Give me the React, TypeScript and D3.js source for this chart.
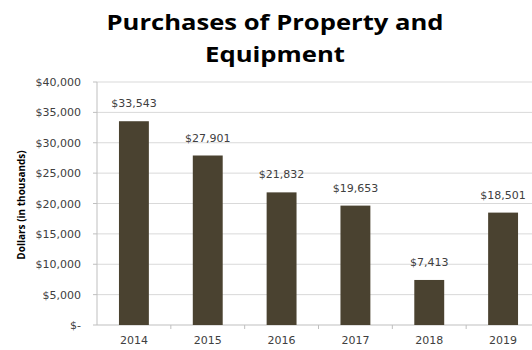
import React from "react";
import * as d3 from "d3";

const years = ["2014", "2015", "2016", "2017", "2018", "2019"];
const values = [33543, 27901, 21832, 19653, 7413, 18501];
const yTicks = [0, 5000, 10000, 15000, 20000, 25000, 30000, 35000, 40000];

export default function App() {
  const W = 532, H = 350;
  const left = 97, right = 540, top = 82, bottom = 325;
  const x = d3.scaleBand().domain(years).range([left, right]).paddingInner(0.595).paddingOuter(0.2975);
  const y = d3.scaleLinear().domain([0, 40000]).range([bottom, top]);
  const fmt = (v: number) => (v === 0 ? "$-" : "$" + d3.format(",")(v));
  const step = x.step();
  const font = "DejaVu Sans, sans-serif";
  return (
    <svg width={W} height={H} style={{ position: "absolute", left: 0, top: 0, background: "#fff" }}>
      <rect width={W} height={H} fill="#fff" />
      <text x={275} y={30} textAnchor="middle" fontFamily="Open Sans, sans-serif" fontWeight="bold" fontSize={21} fill="#000" textLength={337} lengthAdjust="spacingAndGlyphs">Purchases of Property and</text>
      <text x={275} y={62} textAnchor="middle" fontFamily="Open Sans, sans-serif" fontWeight="bold" fontSize={21} fill="#000" textLength={140} lengthAdjust="spacingAndGlyphs">Equipment</text>
      {yTicks.map((t) => (
        <g key={t}>
          {t > 0 && <line x1={left} x2={W} y1={y(t)} y2={y(t)} stroke="#d9d9d9" strokeWidth={1} />}
          <line x1={left - 4} x2={left} y1={y(t)} y2={y(t)} stroke="#bfbfbf" />
          <text x={81} y={y(t) + 4} textAnchor="end" fontFamily={font} fontSize={11} fill="#404040">{fmt(t)}</text>
        </g>
      ))}
      <line x1={left} x2={left} y1={top} y2={bottom} stroke="#bfbfbf" />
      <line x1={left} x2={W} y1={bottom} y2={bottom} stroke="#bfbfbf" />
      {years.map((yr, i) => (
        <line key={"t" + yr} x1={left + step * (i + 1)} x2={left + step * (i + 1)} y1={bottom} y2={bottom + 4} stroke="#bfbfbf" />
      ))}
      {years.map((yr, i) => (
        <g key={yr}>
          <rect x={x(yr)} y={y(values[i])} width={x.bandwidth()} height={bottom - y(values[i])} fill="#4a4230" />
          <text x={(x(yr) as number) + x.bandwidth() / 2} y={y(values[i]) - 14} textAnchor="middle" fontFamily={font} fontSize={11} fill="#404040">{fmt(values[i])}</text>
          <text x={(x(yr) as number) + x.bandwidth() / 2} y={344} textAnchor="middle" fontFamily={font} fontSize={11} fill="#404040">{yr}</text>
        </g>
      ))}
      <text transform={`translate(25,205) rotate(-90)`} textAnchor="middle" fontFamily="Open Sans, sans-serif" fontWeight="bold" fontSize={10} fill="#000">Dollars (in thousands)</text>
    </svg>
  );
}
